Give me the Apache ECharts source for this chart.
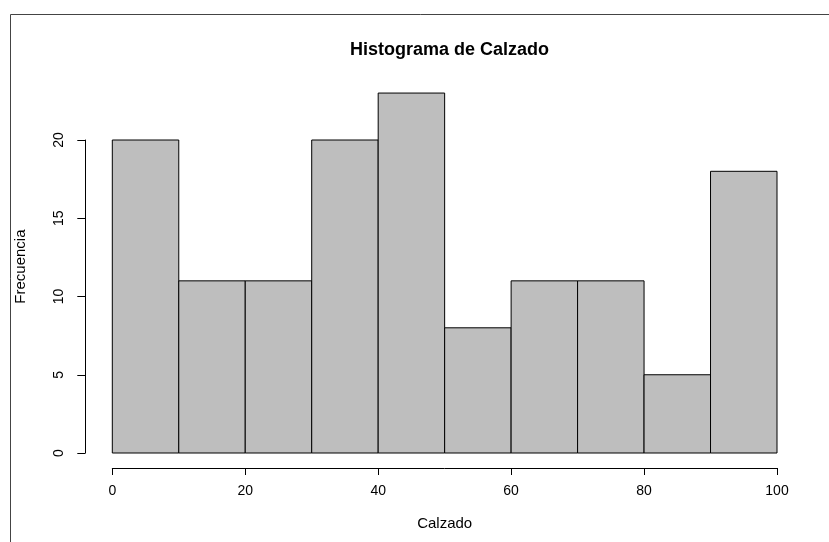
<!DOCTYPE html>
<html>
<head>
<meta charset="utf-8">
<script src="https://cdn.jsdelivr.net/npm/echarts@6/dist/echarts.min.js"></script>
<style>html,body{margin:0;padding:0;background:#fff;}#c{width:829px;height:542px;}</style>
</head>
<body>
<div id="c"></div>
<script>
const binStarts = [0, 10, 20, 30, 40, 50, 60, 70, 80, 90];
const binEnds = [10, 20, 30, 40, 50, 60, 70, 80, 90, 100];
const counts = [20, 11, 11, 20, 23, 8, 11, 11, 5, 18];
const xTicks = [0, 20, 40, 60, 80, 100];
const yTicks = [0, 5, 10, 15, 20];
const titleText = 'Histograma de Calzado';
const xName = 'Calzado';
const yName = 'Frecuencia';

const FONT = '"Liberation Sans", Arial, sans-serif';
const data = binStarts.map((s, i) => [s, binEnds[i], counts[i]]);

const chart = echarts.init(document.getElementById('c'), null, {renderer: 'canvas'});
chart.setOption({
  animation: false,
  backgroundColor: '#fff',
  title: {
    text: titleText, left: 444.5, top: 36, textAlign: 'center',
    textStyle: {fontFamily: FONT, fontSize: 18, fontWeight: 'bold', color: '#000'}
  },
  graphic: [{
    type: 'rect', shape: {x: 10.5, y: 14.5, width: 900, height: 600},
    style: {fill: 'none', stroke: '#444', lineWidth: 1}, silent: true
  }],
  grid: [
    {left: 85.7, top: 78.6, width: 717.9, height: 376},
    {left: 112.3, top: 140, width: 664.7, height: 313}
  ],
  xAxis: [
    {gridIndex: 0, type: 'value', min: -4, max: 104, axisLine: {show: false}, axisTick: {show: false},
     axisLabel: {show: false}, splitLine: {show: false},
     name: xName, nameLocation: 'middle', nameGap: 62,
     nameTextStyle: {fontFamily: FONT, fontSize: 15, color: '#000'}},
    {gridIndex: 1, type: 'value', min: xTicks[0], max: xTicks[xTicks.length - 1], interval: 20, offset: 15,
     axisLine: {show: true, onZero: false, lineStyle: {color: '#000', width: 1}},
     axisTick: {show: true, length: 7, lineStyle: {color: '#000'}},
     axisLabel: {fontFamily: FONT, fontSize: 14, color: '#000', margin: 16, showMinLabel: true, showMaxLabel: true},
     splitLine: {show: false}}
  ],
  yAxis: [
    {gridIndex: 0, type: 'value', min: -0.92, max: 23.92, axisLine: {show: false}, axisTick: {show: false},
     axisLabel: {show: false}, splitLine: {show: false},
     name: yName, nameLocation: 'middle', nameGap: 57, nameRotate: 90,
     nameTextStyle: {fontFamily: FONT, fontSize: 15, color: '#000'}},
    {gridIndex: 1, type: 'value', min: yTicks[0], max: yTicks[yTicks.length - 1], interval: 5, offset: 27,
     axisLine: {show: true, onZero: false, lineStyle: {color: '#000', width: 1}},
     axisTick: {show: true, length: 8, lineStyle: {color: '#000'}},
     axisLabel: {fontFamily: FONT, fontSize: 14, color: '#000', rotate: 90, margin: 19, showMinLabel: true, showMaxLabel: true},
     splitLine: {show: false}}
  ],
  series: [{
    type: 'custom',
    xAxisIndex: 1, yAxisIndex: 1,
    clip: false,
    data: data,
    encode: {x: [0, 1], y: 2},
    renderItem: function (params, api) {
      const p0 = api.coord([api.value(0), 0]);
      const p1 = api.coord([api.value(1), api.value(2)]);
      return {
        type: 'rect',
        shape: {x: p0[0], y: p1[1], width: p1[0] - p0[0], height: p0[1] - p1[1]},
        style: {fill: '#bebebe', stroke: '#000', lineWidth: 1}
      };
    }
  }]
});
</script>
</body>
</html>
